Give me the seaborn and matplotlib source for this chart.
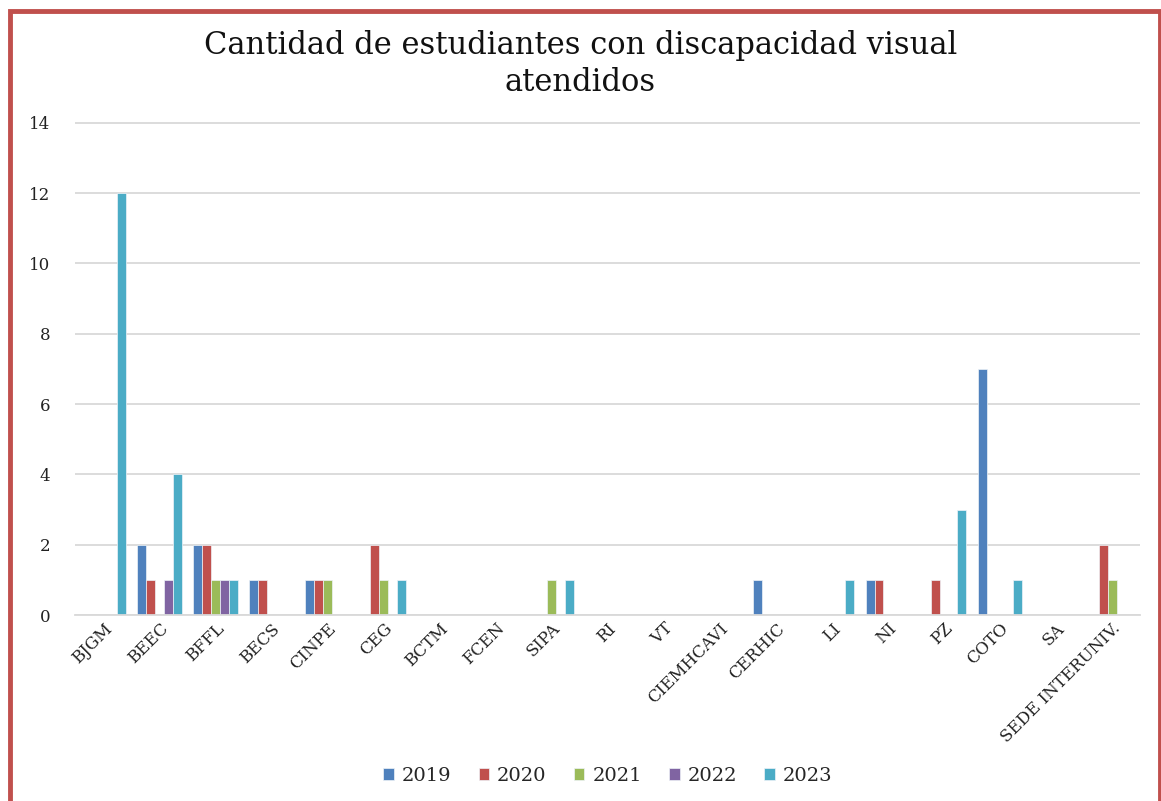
import pandas as pd
import matplotlib.pyplot as plt
import seaborn as sns
from matplotlib.patches import Rectangle

categories = ['BJGM', 'BEEC', 'BFFL', 'BECS', 'CINPE', 'CEG', 'BCTM', 'FCEN', 'SIPA', 'RI',
              'VT', 'CIEMHCAVI', 'CERHIC', 'LI', 'NI', 'PZ', 'COTO', 'SA', 'SEDE INTERUNIV.']
years = ['2019', '2020', '2021', '2022', '2023']

v2019 = [0, 2, 2, 1, 1, 0, 0, 0, 0, 0, 0, 0, 1, 0, 1, 0, 7, 0, 0]
v2020 = [0, 1, 2, 1, 1, 2, 0, 0, 0, 0, 0, 0, 0, 0, 1, 1, 0, 0, 2]
v2021 = [0, 0, 1, 0, 1, 1, 0, 0, 1, 0, 0, 0, 0, 0, 0, 0, 0, 0, 1]
v2022 = [0, 1, 1, 0, 0, 0, 0, 0, 0, 0, 0, 0, 0, 0, 0, 0, 0, 0, 0]
v2023 = [12, 4, 1, 0, 0, 1, 0, 0, 1, 0, 0, 0, 0, 1, 0, 3, 1, 0, 0]

colors = ['#4F81BD', '#C0504D', '#9BBB59', '#8064A2', '#4BACC6']

rows = []
for year, vals in zip(years, [v2019, v2020, v2021, v2022, v2023]):
    for cat, v in zip(categories, vals):
        rows.append({'categoria': cat, 'anio': year, 'valor': v})
df = pd.DataFrame(rows)

sns.set_style('white')
plt.rcParams['font.family'] = ['DejaVu Serif']

fig = plt.figure(figsize=(11.61, 8.01), dpi=100)
ax = fig.add_axes([0.065, 0.232, 0.917, 0.616])

sns.barplot(data=df, x='categoria', y='valor', hue='anio', order=categories,
            hue_order=years, palette=colors, saturation=1, width=0.8,
            linewidth=0.5, edgecolor='#eef3f8', ax=ax)

ax.set_ylim(0, 14.03)
ax.set_yticks(range(0, 15, 2))
ax.yaxis.grid(True, color='#d9d9d9', linewidth=1.3)
ax.set_axisbelow(True)
for s in ['top', 'right', 'left']:
    ax.spines[s].set_visible(False)
ax.spines['bottom'].set_color('#d9d9d9')
ax.spines['bottom'].set_linewidth(1.3)
ax.tick_params(axis='y', length=0, labelsize=12, pad=18, colors='#222222')
ax.tick_params(axis='x', length=0, labelsize=12, colors='#222222')
plt.setp(ax.get_xticklabels(), rotation=45, ha='right', rotation_mode='anchor')
ax.set_xlabel('')
ax.set_ylabel('')

fig.suptitle('Cantidad de estudiantes con discapacidad visual\natendidos',
             fontsize=22, y=0.963, color='#111111', linespacing=1.25)

ax.legend(loc='center', bbox_to_anchor=(0.5, -0.325), ncol=5, frameon=False,
          fontsize=14, handlelength=0.55, handleheight=0.55, columnspacing=1.4,
          handletextpad=0.4)

# red frame around the chart
fig.patches.append(Rectangle((0.009, -0.05), 0.99, 1.036, transform=fig.transFigure,
                             fill=False, edgecolor='#C0504D', linewidth=3.5))

fig.savefig('out.png', dpi=100)
